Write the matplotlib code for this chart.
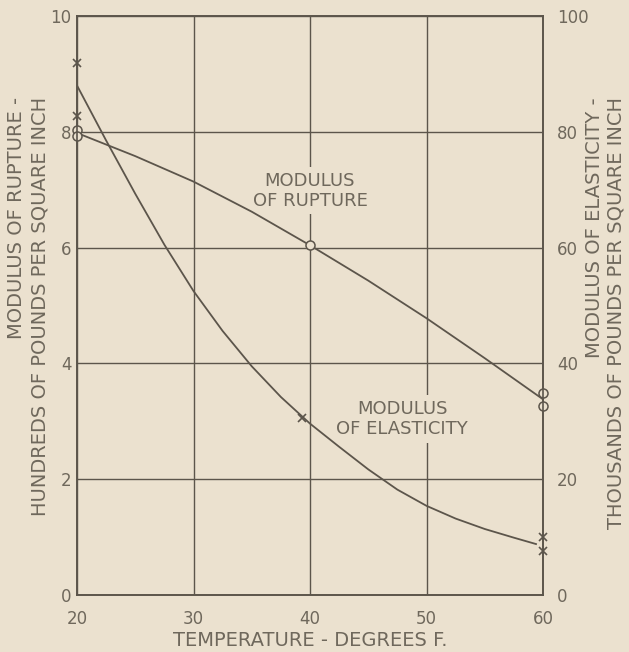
import numpy as np
import matplotlib
matplotlib.use("Agg")
import matplotlib.pyplot as plt

# ── data ──────────────────────────────────────────────────────────────────────
temps_ticks = [20, 30, 40, 50, 60]
rupture_ticks = [0, 2, 4, 6, 8, 10]
elastic_ticks = [0, 20, 40, 60, 80, 100]

# modulus of rupture, hundreds of psi (left axis)
rup_pts_t = [20, 20, 40, 60, 60]
rup_pts_v = [8.03, 7.93, 6.05, 3.49, 3.27]
rup_curve_t = [20, 25, 30, 35, 40, 45, 50, 55, 60]
rup_curve_v = [7.98, 7.58, 7.14, 6.62, 6.04, 5.43, 4.78, 4.09, 3.38]

# modulus of elasticity, thousands of psi (right axis)
ela_pts_t = [20, 20, 39.3, 60, 60]
ela_pts_v = [91.9, 82.7, 30.6, 10.0, 7.6]
ela_curve_t = [20, 22.5, 25, 27.5, 30, 32.5, 35, 37.5, 40, 42.5, 45,
               47.5, 50, 52.5, 55, 57.5, 59.4]
ela_curve_v = [88.0, 78.5, 69.3, 60.5, 52.5, 45.6, 39.5, 34.2, 29.6, 25.6, 21.7,
               18.2, 15.4, 13.2, 11.4, 9.9, 8.8]

bg = '#ebe1cf'
ink = '#5c554b'
txt = '#6f685c'
fs = 12
plt.rcParams['font.family'] = ['DejaVu Sans']

fig = plt.figure(figsize=(6.29, 6.52), dpi=100)
fig.patch.set_facecolor(bg)
ax = fig.add_axes([77/629, 57/652, 466/629, 579/652])
ax.set_facecolor(bg)
ax2 = ax.twinx()

ax.set_xlim(20, 60)
ax.set_ylim(0, 10)
ax2.set_ylim(0, 100)

ax.set_xticks(temps_ticks)
ax.set_yticks(rupture_ticks)
ax2.set_yticks(elastic_ticks)
ax.grid(True, color=ink, linewidth=1.0)
ax.set_axisbelow(True)
for a in (ax, ax2):
    for s in a.spines.values():
        s.set_color(ink)
        s.set_linewidth(1.2)
ax.tick_params(axis='both', length=0, labelsize=fs, labelcolor=txt)
ax.tick_params(axis='x', pad=11)
ax.tick_params(axis='y', pad=4)
ax2.tick_params(axis='y', length=0, labelsize=fs, labelcolor=txt, pad=10)

# curves
ax.plot(rup_curve_t, rup_curve_v, color=ink, linewidth=1.3, zorder=3)
ax2.plot(ela_curve_t, ela_curve_v, color=ink, linewidth=1.3, zorder=3)
ax.plot(rup_pts_t, rup_pts_v, linestyle='none', marker='o', markersize=6.5,
        markerfacecolor=bg, markeredgecolor=ink, markeredgewidth=1.1,
        clip_on=False, zorder=4)
ax2.plot(ela_pts_t, ela_pts_v, linestyle='none', marker='x', markersize=5.5,
         color=ink, markeredgewidth=1.2, clip_on=False, zorder=4)

# curve labels, with background so grid lines stop behind them
box = dict(boxstyle='square,pad=0.25', facecolor=bg, edgecolor='none')
ax.text(40, 6.98, 'MODULUS\nOF RUPTURE', ha='center', va='center', fontsize=13,
        color=txt, linespacing=1.15, bbox=box, zorder=2)
ax.text(47.9, 3.04, 'MODULUS\nOF ELASTICITY', ha='center', va='center', fontsize=13,
        color=txt, linespacing=1.15, bbox=box, zorder=2)

ax.set_xlabel('TEMPERATURE - DEGREES F.', fontsize=14, color=txt, labelpad=2)

# axis titles: two lines each, top-aligned
yfs = 14
top = 1 - 97/652
fig.text(17/629, top, 'MODULUS OF RUPTURE -', rotation=90,
         ha='center', va='top', fontsize=yfs, color=txt)
fig.text(40/629, top, 'HUNDREDS OF POUNDS PER SQUARE INCH', rotation=90,
         ha='center', va='top', fontsize=yfs, color=txt)
fig.text(594/629, top, 'MODULUS OF ELASTICITY -', rotation=90,
         ha='center', va='top', fontsize=yfs, color=txt)
fig.text(616/629, top, 'THOUSANDS OF POUNDS PER SQUARE INCH', rotation=90,
         ha='center', va='top', fontsize=yfs, color=txt)

fig.savefig('out.png', dpi=100, facecolor=fig.get_facecolor())
